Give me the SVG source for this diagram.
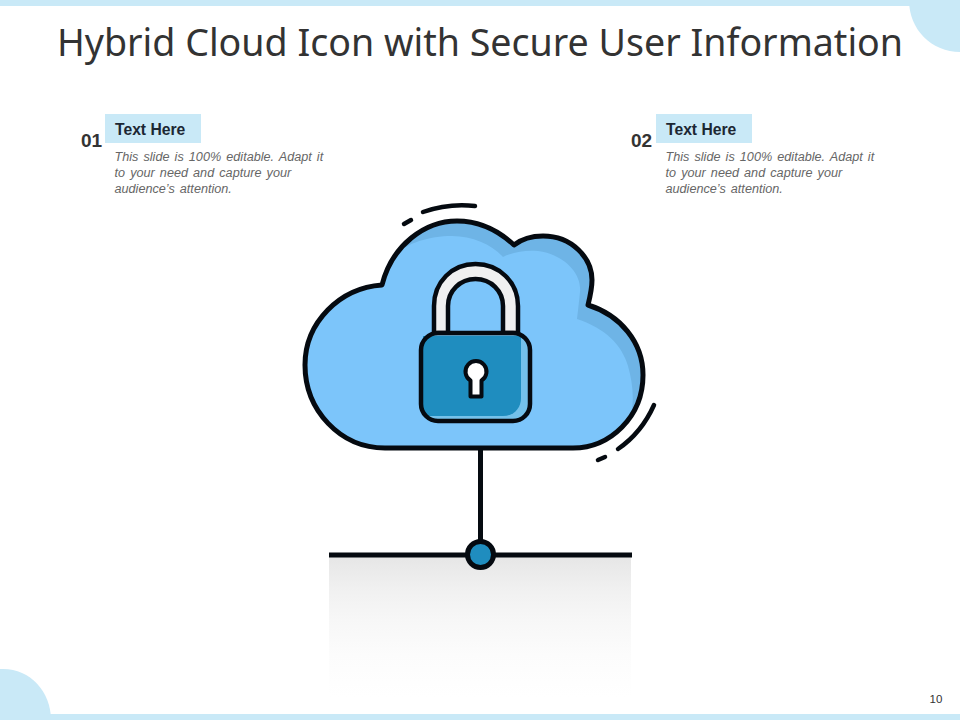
<svg xmlns="http://www.w3.org/2000/svg" width="960" height="720" viewBox="0 0 960 720">
<style>
.ink{fill:none;stroke:#050a10;stroke-linecap:round;stroke-linejoin:round}
.num{font:bold 19px "Liberation Sans",Arial,sans-serif;fill:#333}
.head{font:bold 15.7px "Liberation Sans",Arial,sans-serif;fill:#1c2733}
.body{font:italic 12.65px "Liberation Sans",Arial,sans-serif;fill:#666;word-spacing:1.6px}
.band{fill:#c9e9f7}
</style>
<defs>
<linearGradient id="fade" x1="0" y1="0" x2="0" y2="1"><stop offset="0" stop-color="#e6e6e6"/><stop offset="0.22" stop-color="#f0f0f0"/><stop offset="0.45" stop-color="#f7f7f7"/><stop offset="0.7" stop-color="#fcfcfc"/><stop offset="1" stop-color="#fff"/></linearGradient>
<clipPath id="cloudClip"><path d="M382 285C392 245 425 221 457 221C480 221 500 232 514 245C523 238 533 236 543 236C572 236 592 258 592 280C592 289 590 297 588 305C620 315 643 342 643 375C643 417 610 448 573 448L385 448C340 448 305 410 305 365C305 322 340 288 382 285Z"/></clipPath>
</defs>
<rect width="960" height="720" fill="#fff"/>
<g id="frame">
<rect class="band" x="0" y="0" width="960" height="6"/>
<rect class="band" x="0" y="714" width="960" height="6"/>
<path class="band" d="M909 0H960V52C932 52 909 30 909 0Z"/>
<path class="band" d="M0 669C28 667 51 690 51 720H0Z"/>
</g>
<text id="title" x="480" y="56" text-anchor="middle" font-family="'Noto Sans','Open Sans',sans-serif" font-size="37.600" fill="#333">Hybrid Cloud Icon with Secure User Information</text>
<g id="item1">
<text class="num" x="81" y="147">01</text>
<rect class="band" x="105" y="114" width="96" height="29"/>
<text class="head" x="115" y="134.500">Text Here</text>
<text class="body" x="114.500" y="160.500">This slide is 100% editable. Adapt it</text>
<text class="body" x="114.500" y="176.500">to your need and capture your</text>
<text class="body" x="114.500" y="192.500">audience’s attention.</text>
</g>
<g id="item2">
<text class="num" x="631" y="147">02</text>
<rect class="band" x="656" y="114" width="96" height="29"/>
<text class="head" x="666" y="134.500">Text Here</text>
<text class="body" x="665.500" y="160.500">This slide is 100% editable. Adapt it</text>
<text class="body" x="665.500" y="176.500">to your need and capture your</text>
<text class="body" x="665.500" y="192.500">audience’s attention.</text>
</g>
<g id="base">
<rect x="329" y="557" width="302" height="140" fill="url(#fade)"/>
</g>
<g id="connectors">
<path class="ink" d="M480.500 448V545" stroke-width="5" style="stroke-linecap:butt"/>
<path class="ink" d="M329 555H632" stroke-width="5" style="stroke-linecap:butt"/>
</g>
<g id="cloud">
<path d="M382 285C392 245 425 221 457 221C480 221 500 232 514 245C523 238 533 236 543 236C572 236 592 258 592 280C592 289 590 297 588 305C620 315 643 342 643 375C643 417 610 448 573 448L385 448C340 448 305 410 305 365C305 322 340 288 382 285Z" fill="#6eb4e6"/>
<path clip-path="url(#cloudClip)" d="M300 240H385L393 258C403 244 428 236 452 236C473 236 492 245 503 257C515 251 528 250 538 251C562 254 582 272 580 292C579 302 578 310 577 319C605 328 622 345 628 366C632 380 634 395 632 410L620 460H300Z" fill="#7cc5fa"/>
<path class="ink" d="M382 285C392 245 425 221 457 221C480 221 500 232 514 245C523 238 533 236 543 236C572 236 592 258 592 280C592 289 590 297 588 305C620 315 643 342 643 375C643 417 610 448 573 448L385 448C340 448 305 410 305 365C305 322 340 288 382 285Z" stroke-width="5"/>
<path class="ink" d="M423 212C440 206 458 204 475 206" stroke-width="4.500"/>
<path class="ink" d="M404 224L411 220" stroke-width="4.500"/>
<path class="ink" d="M654 405C646 423 634 438 618 449" stroke-width="4.500"/>
<path class="ink" d="M598 460L605 457" stroke-width="4.500"/>
</g>
<g id="lock">
<path d="M434 333V306C434 282 452 264 475.500 264C499 264 518 282 518 306V333H503V306C503 291 491 279 475.500 279C460 279 448 291 448 306V333Z" fill="#f0f0f0" stroke="#050a10" stroke-width="4.500" stroke-linejoin="round"/>
<rect x="421" y="333" width="109" height="88" rx="17" fill="#74c1ea"/>
<path d="M423 336H521V398C521 409 513 416 503 416H423Z" fill="#1f8dbf"/>
<rect x="421" y="333" width="109" height="88" rx="17" fill="none" stroke="#050a10" stroke-width="4.500"/>
<path d="M470.500 380.500A10.500 10.500 0 1 1 481.500 380.500V396.500H470.500Z" fill="#fff" stroke="#050a10" stroke-width="4" stroke-linejoin="round"/>
</g>
<g id="hub">
<circle cx="480.500" cy="554.500" r="13" fill="#1f8dbf" stroke="#050a10" stroke-width="5"/>
</g>
<text id="page" x="936" y="703" text-anchor="middle" font-family="'Liberation Sans',Arial,sans-serif" font-size="11.500" fill="#333">10</text>
</svg>
